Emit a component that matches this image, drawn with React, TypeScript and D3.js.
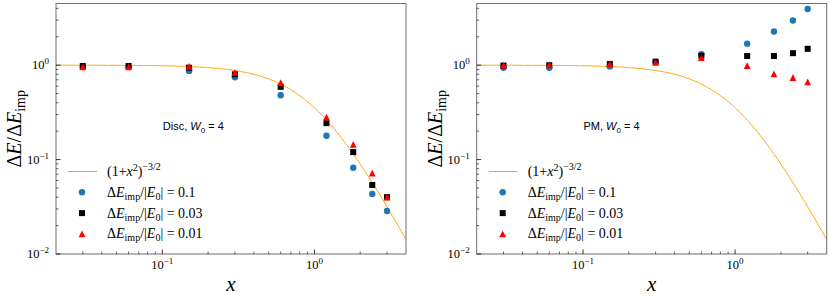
import React from "react";
import * as d3 from "d3";

const xs = [0.03, 0.06, 0.15, 0.3, 0.6, 1.2, 1.8, 2.4, 3.0];

const discBlue = [0.96, 0.96, 0.87, 0.746, 0.48, 0.179, 0.082, 0.0432, 0.0285];
const discBlack = [0.98, 0.98, 0.94, 0.8, 0.59, 0.243, 0.12, 0.0538, 0.04];
const discRed = [0.96, 0.96, 0.97, 0.84, 0.654, 0.281, 0.145, 0.072, 0.04];

const pmBlue = [0.94, 0.94, 0.97, 1.08, 1.31, 1.69, 2.27, 2.97, 3.93];
const pmBlack = [0.99, 1.0, 1.03, 1.09, 1.26, 1.25, 1.25, 1.34, 1.49];
const pmRed = [1.0, 1.01, 1.03, 1.07, 1.2, 0.99, 0.81, 0.74, 0.665];

const panelNames = ["Disc", "PM"];
const legendValues = ["0.1", "0.03", "0.01"];

const xMajor = [0.1, 1];
const xMajorExp = ["\u22121", "0"];
const yMajor = [0.01, 0.1, 1];
const yMajorExp = ["\u22122", "\u22121", "0"];
const minorTicks = [0.02, 0.03, 0.04, 0.05, 0.06, 0.07, 0.08, 0.09, 0.2, 0.3, 0.4, 0.5, 0.6, 0.7, 0.8, 0.9, 2, 3, 4];

const W = 830;
const H = 297;
const TOP = 3.5;
const BOT = 254;
const AXW = 350;
const lefts = [56, 476.7];

const C_BLUE = "#1f77b4";
const C_RED = "#ff0000";
const C_BLACK = "#000000";
const C_LINE = "#ffa500";
const SERIF = "Liberation Serif, DejaVu Serif, serif";
const SANS = "Liberation Sans, DejaVu Sans, sans-serif";

function model(x: number) {
  return Math.pow(1 + x * x, -1.5);
}

function Marker({ kind, cx, cy }: { kind: string; cx: number; cy: number }) {
  if (kind === "circle") return <circle cx={cx} cy={cy} r={3.2} fill={C_BLUE} />;
  if (kind === "square") return <rect x={cx - 3} y={cy - 3} width={6} height={6} fill={C_BLACK} />;
  const s = 3.4;
  return <path d={`M${cx},${cy - s}L${cx - s},${cy + s}L${cx + s},${cy + s}Z`} fill={C_RED} />;
}

function Panel({ idx, series }: { idx: number; series: number[][] }) {
  const x0 = lefts[idx];
  const x1 = x0 + AXW;
  const x = d3.scaleLog().domain([0.02, 4]).range([x0, x1]);
  const y = d3.scaleLog().domain([0.01, 4.5]).range([BOT, TOP]);
  const curveX = d3.range(0, 301).map((i) => 0.02 * Math.pow(200, i / 300));
  const line = d3
    .line<number>()
    .x((d) => x(d))
    .y((d) => y(model(d)));
  const kinds = ["circle", "square", "triangle"];
  const clipId = `clip${idx}`;
  const legX = x0 + 12;
  const legY = [171.5, 192.3, 213.1, 233.9];
  return (
    <g>
      <defs>
        <clipPath id={clipId}>
          <rect x={x0} y={TOP} width={AXW} height={BOT - TOP} />
        </clipPath>
      </defs>
      <g clipPath={`url(#${clipId})`}>
        <path d={line(curveX) || ""} fill="none" stroke={C_LINE} strokeWidth={1} />
        {series.map((vals, si) =>
          vals.map((v, i) => <Marker key={`${si}-${i}`} kind={kinds[si]} cx={x(xs[i])} cy={y(v)} />)
        )}
      </g>
      <rect x={x0} y={TOP} width={AXW} height={BOT - TOP} fill="none" stroke="#6e6e6e" strokeWidth={1} />
      {xMajor.map((t, i) => (
        <g key={`xm${i}`}>
          <line x1={x(t)} x2={x(t)} y1={BOT} y2={BOT - 4.5} stroke="#000" strokeWidth={0.8} />
          <text x={x(t)} y={BOT + 15} textAnchor="middle" fontFamily={SERIF} fontSize={12.5} fill="#000">
            10<tspan dy={-5} fontSize={9}>{xMajorExp[i]}</tspan>
          </text>
        </g>
      ))}
      {minorTicks
        .filter((t) => t > 0.02 && t < 4)
        .map((t, i) => (
          <line key={`xn${i}`} x1={x(t)} x2={x(t)} y1={BOT} y2={BOT - 2.5} stroke="#000" strokeWidth={0.6} />
        ))}
      {yMajor.map((t, i) => (
        <g key={`ym${i}`}>
          <line x1={x0} x2={x0 + 4.5} y1={y(t)} y2={y(t)} stroke="#000" strokeWidth={0.8} />
          <text x={x0 - 7} y={y(t) + 4} textAnchor="end" fontFamily={SERIF} fontSize={12.5} fill="#000">
            10<tspan dy={-5} fontSize={9}>{yMajorExp[i]}</tspan>
          </text>
        </g>
      ))}
      {minorTicks.map((t, i) => (
        <line key={`yn${i}`} x1={x0} x2={x0 + 2.5} y1={y(t)} y2={y(t)} stroke="#000" strokeWidth={0.6} />
      ))}
      <text x={x0 + AXW / 2} y={291} textAnchor="middle" fontFamily={SERIF} fontStyle="italic" fontSize={21} fill="#000">
        x
      </text>
      <text
        transform={`translate(${x0 - 35},${(TOP + BOT) / 2}) rotate(-90)`}
        textAnchor="middle"
        fontFamily={SERIF}
        fontSize={20}
        fill="#000"
      >
        Δ<tspan fontStyle="italic">E</tspan>
        <tspan>/Δ</tspan>
        <tspan fontStyle="italic">E</tspan>
        <tspan dy={4} fontSize={14}>imp</tspan>
      </text>
      <text x={x0 + 0.305 * AXW} y={TOP + 0.49 * (BOT - TOP) + 4} fontFamily={SANS} fontSize={11} fill="#000">
        {panelNames[idx]}, <tspan fontStyle="italic">W</tspan>
        <tspan dy={2.5} fontSize={8}>0</tspan>
        <tspan dy={-2.5}> = 4</tspan>
      </text>
      <line x1={legX} x2={legX + 29} y1={legY[0]} y2={legY[0]} stroke={C_LINE} strokeWidth={1} />
      <text x={x0 + 51} y={legY[0] + 4.5} fontFamily={SERIF} fontSize={14} fill="#000">
        (1+<tspan fontStyle="italic">x</tspan>
        <tspan dy={-5} fontSize={10}>2</tspan>
        <tspan dy={5}>)</tspan>
        <tspan dy={-6} fontSize={10}>{"\u22123/2"}</tspan>
      </text>
      {legendValues.map((v, i) => (
        <g key={`leg${i}`}>
          <Marker kind={kinds[i]} cx={x0 + 26} cy={legY[i + 1]} />
          <text x={x0 + 51} y={legY[i + 1] + 4.5} fontFamily={SERIF} fontSize={14} fill="#000">
            Δ<tspan fontStyle="italic">E</tspan>
            <tspan dy={3} fontSize={10}>imp</tspan>
            <tspan dy={-3}>/|</tspan>
            <tspan fontStyle="italic">E</tspan>
            <tspan dy={3} fontSize={10}>0</tspan>
            <tspan dy={-3}>| = {v}</tspan>
          </text>
        </g>
      ))}
    </g>
  );
}

export default function App() {
  return (
    <svg
      width={W}
      height={H}
      viewBox={`0 0 ${W} ${H}`}
      style={{ position: "absolute", left: 0, top: 0, background: "#fff" }}
    >
      <rect x={0} y={0} width={W} height={H} fill="#fff" />
      <Panel idx={0} series={[discBlue, discBlack, discRed]} />
      <Panel idx={1} series={[pmBlue, pmBlack, pmRed]} />
    </svg>
  );
}
